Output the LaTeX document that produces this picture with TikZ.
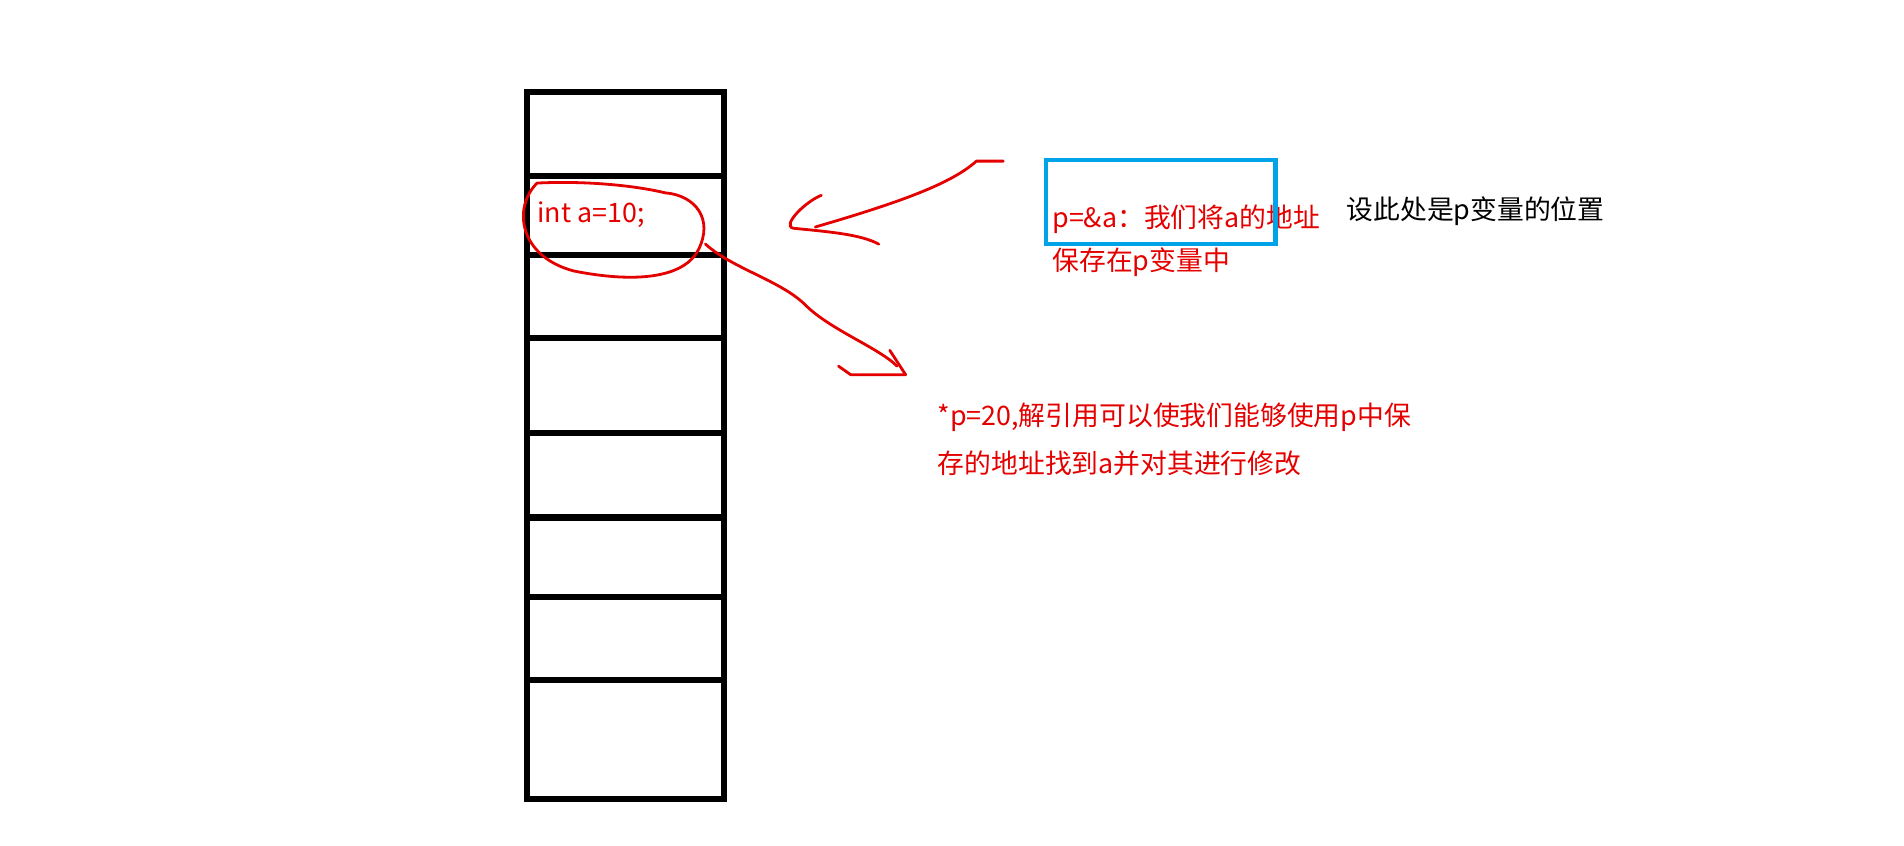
\documentclass[tikz,border=0pt]{standalone}
\usepackage{fontspec}
\setmainfont{Noto Sans CJK SC}
\begin{document}
\begin{tikzpicture}[x=0.61pt,y=-0.61pt,
  cell/.style={line width=3pt},
  pen/.style={red!90!black,line width=1.4pt,line cap=round,line join=round},
  rt/.style={text=red!90!black,font=\fontsize{13.4}{15}\selectfont,anchor=west,inner sep=0pt},
  bt/.style={text=black,font=\fontsize{13.4}{15}\selectfont,anchor=west,inner sep=0pt}]
\useasboundingbox (0,0) rectangle (1560,693);
% memory column
\draw[cell] (432,75) rectangle (593,655);
\foreach \yy in {144,209,277,355,424,489,557}{\draw[cell] (432,\yy) -- (593,\yy);}
% texts
\node[rt] (a) at (440,176) {int a=10;};
\node[rt] (p1) at (862,180) {p=\&a：我们将a的地址};
\node[rt] (p2) at (862,215) {保存在p变量中};
\node[bt] (pp) at (1103,173) {设此处是p变量的位置};
\node[rt] (d1) at (768,342) {*p=20,解引用可以使我们能够使用p中保};
\node[rt] (d2) at (768,380) {存的地址找到a并对其进行修改};
% blue box
\draw[line width=2.2pt,color={rgb,255:red,0;green,162;blue,232}] (857,131) rectangle (1045,200);
% circle around a
\draw[pen] (440,150) .. controls (420,170) and (425,210) .. (470,222) .. controls (520,232) and (560,228) .. (572,205) .. controls (585,180) and (570,160) .. (545,158) .. controls (520,152) and (480,148) .. (440,150);
% arrow from a down right
\coordinate (s1) at (578,200);
\coordinate (e1) at (735,300);
\draw[pen] (s1) .. controls (600,220) and (640,230) .. (660,250) .. controls (680,270) and (720,285) .. (e1);
\draw[pen] (687,300) -- (697,307) -- (742,307) -- (729,287);
% arrow toward cell
\coordinate (s2) at (822,132);
\coordinate (e2) at (668,186);
\draw[pen] (s2) -- (800,132) .. controls (780,150) and (740,165) .. (e2);
\draw[pen] (673,160) .. controls (660,165) and (640,185) .. (650,187) .. controls (680,190) and (705,192) .. (720,200);
\end{tikzpicture}
\end{document}
